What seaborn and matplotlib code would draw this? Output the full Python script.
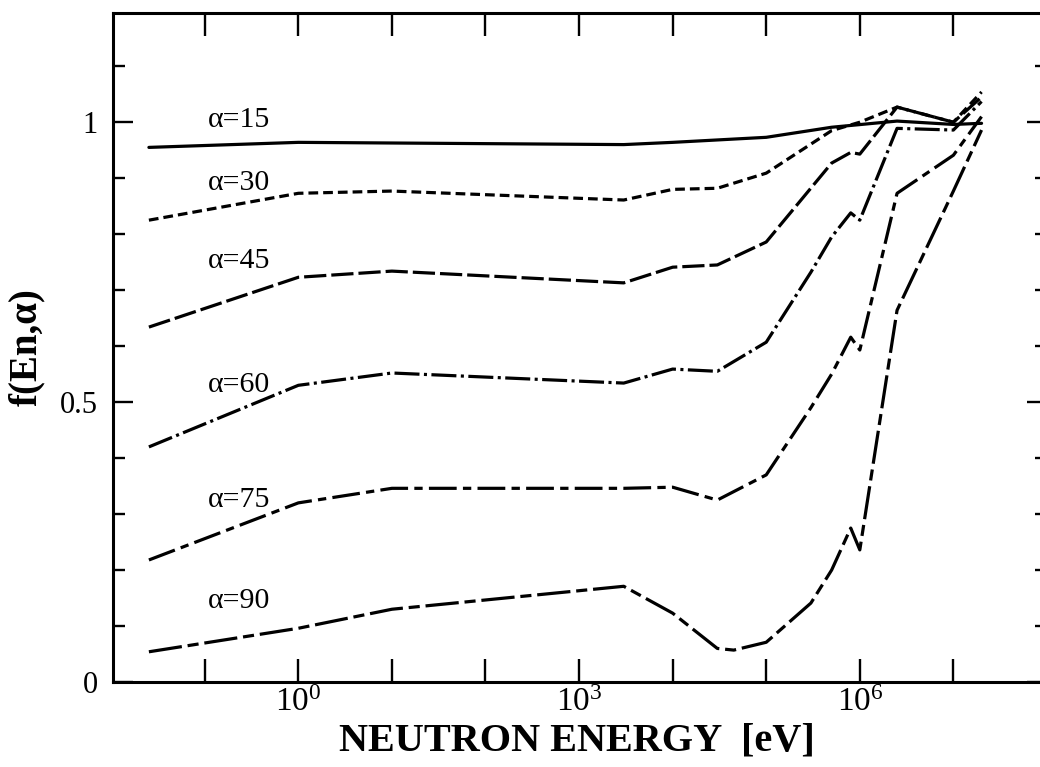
import matplotlib
matplotlib.use("Agg")
import matplotlib.pyplot as plt
import matplotlib.ticker as mticker
import numpy as np
import pandas as pd
import seaborn as sns

# Incidence angles (degrees) and the f(En, alpha) curves versus neutron energy (eV)
angles = [15, 30, 45, 60, 75, 90]

energy_15 = [0.0253, 1, 3e3, 1e4, 1e5, 5e5, 2.5e6, 1e7, 2e7]
f_15 = [0.955, 0.964, 0.960, 0.964, 0.973, 0.991, 1.002, 0.996, 0.998]

energy_30 = [0.0253, 1, 10, 3e3, 1e4, 3e4, 1e5, 5e5, 1e6, 2.5e6, 1e7, 2e7]
f_30 = [0.825, 0.873, 0.877, 0.861, 0.880, 0.882, 0.909, 0.985, 1.000, 1.027, 1.000, 1.054]

energy_45 = [0.0253, 1, 10, 3e3, 1e4, 3e4, 1e5, 5e5, 8e5, 1e6, 2.5e6, 1e7, 2e7]
f_45 = [0.634, 0.723, 0.734, 0.713, 0.741, 0.745, 0.786, 0.927, 0.946, 0.943, 1.027, 1.000, 1.045]

energy_60 = [0.0253, 1, 10, 3e3, 1e4, 3e4, 1e5, 3e5, 5e5, 8e5, 1e6, 2.5e6, 1e7, 2e7]
f_60 = [0.420, 0.530, 0.552, 0.534, 0.559, 0.555, 0.607, 0.732, 0.795, 0.838, 0.825, 0.989, 0.986, 1.037]

energy_75 = [0.0253, 1, 10, 3e3, 1e4, 3e4, 1e5, 3e5, 5e5, 8e5, 1e6, 2.5e6, 1e7, 2e7]
f_75 = [0.218, 0.320, 0.346, 0.346, 0.348, 0.325, 0.370, 0.490, 0.550, 0.616, 0.593, 0.873, 0.941, 1.010]

energy_90 = [0.0253, 1, 10, 3e3, 1e4, 3e4, 4.5e4, 1e5, 3e5, 5e5, 8e5, 1e6, 2.5e6, 1e7, 2e7]
f_90 = [0.054, 0.096, 0.130, 0.171, 0.123, 0.060, 0.057, 0.071, 0.141, 0.200, 0.275, 0.236, 0.664, 0.877, 0.986]

energies = [energy_15, energy_30, energy_45, energy_60, energy_75, energy_90]
values = [f_15, f_30, f_45, f_60, f_75, f_90]

# Curve labels: (x in eV, baseline y)
label_x = 0.108
label_y = [0.991, 0.879, 0.739, 0.518, 0.3125, 0.132]
labeled_decades = [0, 3, 6]

frames = []
for a, e, f in zip(angles, energies, values):
    frames.append(pd.DataFrame({"energy": e, "f": f, "alpha": str(a)}))
df = pd.concat(frames, ignore_index=True)

sns.set_style("ticks")
plt.rcParams["font.family"] = ["Liberation Serif", "DejaVu Serif"]
plt.rcParams["mathtext.default"] = "regular"
plt.rcParams["lines.scale_dashes"] = False
for key in ["text.color", "axes.edgecolor", "axes.labelcolor",
            "xtick.color", "ytick.color"]:
    plt.rcParams[key] = "black"

fig = plt.figure(figsize=(10.4, 7.67), dpi=100)
ax = fig.add_axes([0.1087, 0.1108, 0.898, 0.8722])
ax.set_xscale("log")

line_dashes = {
    "15": "",
    "30": (7, 3.6),
    "45": (16, 3.6),
    "60": (18, 3.2, 2.2, 3.2),
    "75": (20, 4.5, 6, 4.5),
    "90": (24, 4.2, 8, 4.2),
}
palette = {str(a): "black" for a in angles}

sns.lineplot(data=df, x="energy", y="f", hue="alpha", style="alpha",
             palette=palette, dashes=line_dashes, linewidth=2.3,
             estimator=None, legend=False, ax=ax)

for a, y in zip(angles, label_y):
    ax.text(label_x, y, f"α={a}", fontsize=21.5, ha="left", va="baseline")

ax.set_xlim(10 ** -1.98, 1e8)
ax.set_ylim(0, 1.195)

ax.xaxis.set_major_locator(mticker.LogLocator(base=10, subs=(1.0,), numticks=30))
ax.xaxis.set_minor_locator(mticker.NullLocator())


def xfmt(v, pos):
    k = int(round(np.log10(v)))
    return r"$\mathregular{10^{%d}}$" % k if k in labeled_decades else ""


ax.xaxis.set_major_formatter(mticker.FuncFormatter(xfmt))
ax.yaxis.set_major_locator(mticker.MultipleLocator(0.5))
ax.yaxis.set_minor_locator(mticker.MultipleLocator(0.1))
ax.yaxis.set_major_formatter(mticker.FuncFormatter(lambda v, p: f"{v:g}"))

ax.tick_params(axis="x", which="major", direction="in", length=16.5, width=1.7,
               top=True, bottom=True, labelsize=24, pad=4)
ax.tick_params(axis="y", which="major", direction="in", length=14.5, width=1.7,
               left=True, right=True, labelsize=22, pad=11)
ax.tick_params(axis="y", which="minor", direction="in", length=8.6, width=1.7,
               left=True, right=True)

for s in ax.spines.values():
    s.set_linewidth(2.2)
    s.set_visible(True)

ax.set_xlabel("NEUTRON ENERGY  [eV]", fontsize=29, fontweight="bold")
ax.set_ylabel("f(En,α)", fontsize=28, fontweight="bold")
ax.xaxis.set_label_coords(0.497, -0.061)
ax.yaxis.set_label_coords(-0.073, 0.5)

fig.savefig("out.png", dpi=100)
